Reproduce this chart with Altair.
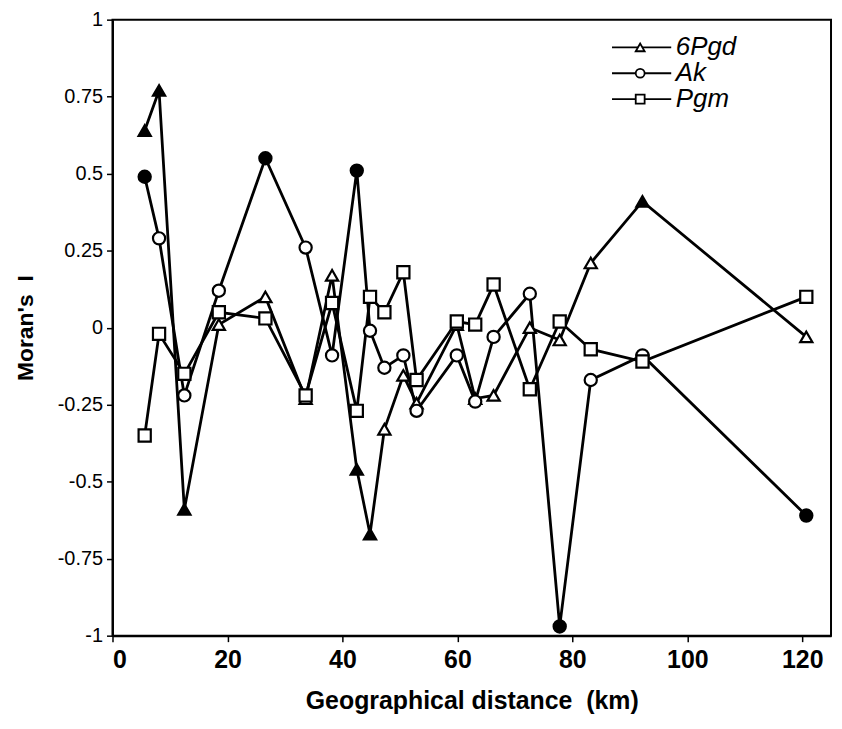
import altair as alt
import pandas as pd

# Geographical distance classes (km)
distance_km = [5.6, 8.1, 12.5, 18.5, 26.6, 33.6, 38.2, 42.5, 44.8, 47.3,
               50.6, 52.9, 59.9, 63.1, 66.3, 72.6, 77.8, 83.2, 92.2, 120.7]

series_names = ["6Pgd", "Ak", "Pgm"]

# Moran's I per series
moran_6pgd = [0.64, 0.77, -0.59, 0.01, 0.10, -0.23, 0.17, -0.46, -0.67, -0.33,
              -0.155, -0.245, 0.01, -0.23, -0.22, 0.00, -0.04, 0.21, 0.41, -0.03]
moran_ak = [0.49, 0.29, -0.22, 0.12, 0.55, 0.26, -0.09, 0.51, -0.01, -0.13,
            -0.09, -0.27, -0.09, -0.24, -0.03, 0.11, -0.97, -0.17, -0.09, -0.61]
moran_pgm = [-0.35, -0.02, -0.15, 0.05, 0.03, -0.22, 0.08, -0.27, 0.10, 0.05,
             0.18, -0.17, 0.02, 0.01, 0.14, -0.20, 0.02, -0.07, -0.11, 0.10]

# Significant values (filled symbols)
sig_6pgd = [1, 1, 1, 0, 0, 0, 0, 1, 1, 0, 0, 0, 0, 0, 0, 0, 0, 0, 1, 0]
sig_ak = [1, 0, 0, 0, 1, 0, 0, 1, 0, 0, 0, 0, 0, 0, 0, 0, 1, 0, 0, 1]
sig_pgm = [0] * 20

rows = []
for name, vals, sigs in zip(series_names, [moran_6pgd, moran_ak, moran_pgm],
                            [sig_6pgd, sig_ak, sig_pgm]):
    for d, v, s in zip(distance_km, vals, sigs):
        rows.append({"series": name, "dist": d, "moran": v,
                     "sig": "yes" if s else "no"})
df = pd.DataFrame(rows)

FONT = "Liberation Sans"
X_DOMAIN = [0, 125]
Y_DOMAIN = [-1, 1]

def xq(field):
    return alt.X(field, type="quantitative",
                 scale=alt.Scale(domain=X_DOMAIN, nice=False, zero=False),
                 axis=alt.Axis(values=[0, 20, 40, 60, 80, 100, 120],
                               title="Geographical distance\u00a0 (km)"))

def yq(field):
    return alt.Y(field, type="quantitative",
                 scale=alt.Scale(domain=Y_DOMAIN, nice=False),
                 axis=alt.Axis(values=[-1, -0.75, -0.5, -0.25, 0, 0.25, 0.5, 0.75, 1],
                               labelExpr="datum.value + ''",
                               title="Moran's\u00a0 I"))

shape_scale = alt.Scale(domain=series_names,
                        range=["triangle-up", "circle", "square"])

base = alt.Chart(df)

lines = base.mark_line(color="black", strokeWidth=2.8).encode(
    x=xq("dist"), y=yq("moran"),
    detail="series:N",
    order="dist:Q",
)

points = base.mark_point(filled=True, stroke="black", strokeWidth=2.2,
                         size=150, opacity=1).encode(
    x=xq("dist"), y=yq("moran"),
    shape=alt.Shape("series:N", scale=shape_scale, legend=None),
    fill=alt.Fill("sig:N",
                  scale=alt.Scale(domain=["no", "yes"], range=["white", "black"]),
                  legend=None),
)

# Legend (drawn inside the plot, top right) - layout constants in data units
LEG_LINE_X0, LEG_LINE_X1 = 86.9, 97.2
LEG_MARK_X = 91.8
LEG_TEXT_X = 98.0
LEG_TOP_Y, LEG_STEP_Y = 0.91, 0.084

leg_df = pd.DataFrame({"series": series_names, "row": list(range(len(series_names)))})
leg_base = alt.Chart(leg_df).transform_calculate(
    ly=f"{LEG_TOP_Y} - datum.row * {LEG_STEP_Y}",
    lx0=f"{LEG_LINE_X0}", lx1=f"{LEG_LINE_X1}",
    mx=f"{LEG_MARK_X}", tx=f"{LEG_TEXT_X}",
)

leg_lines = leg_base.mark_rule(color="black", strokeWidth=1.8).encode(
    x=xq("lx0"), x2="lx1:Q", y=yq("ly"),
)
leg_marks = leg_base.mark_point(filled=True, fill="white", stroke="black",
                                strokeWidth=1.8, size=80, opacity=1).encode(
    x=xq("mx"), y=yq("ly"),
    shape=alt.Shape("series:N", scale=shape_scale, legend=None),
)
leg_text = leg_base.mark_text(align="left", baseline="middle", font=FONT,
                              fontSize=26, fontStyle="italic",
                              color="black").encode(
    x=xq("tx"), y=yq("ly"), text="series:N",
)

chart = alt.layer(lines, points, leg_lines, leg_marks, leg_text).properties(
    width=722, height=619,
    autosize=alt.AutoSizeParams(type="none"),
    padding={"left": 105, "top": 10, "right": 3, "bottom": 80},
    background="white",
).configure_view(
    stroke="black", strokeWidth=2,
).configure_axis(
    grid=False,
    domainColor="black", domainWidth=2,
    tickColor="black", tickWidth=1.5, tickSize=6,
    labelColor="black", titleColor="black",
    labelFont=FONT, titleFont=FONT,
).configure_axisX(
    labelFontSize=25, labelFontWeight="bold", labelPadding=6,
    titleFontSize=25, titleFontWeight="bold", titlePadding=16,
).configure_axisY(
    labelFontSize=20, labelFontWeight="normal", labelPadding=4,
    titleFontSize=23, titleFontWeight="bold", titlePadding=20,
)

chart.save("out.html", embed_options={"renderer": "svg", "actions": False})
